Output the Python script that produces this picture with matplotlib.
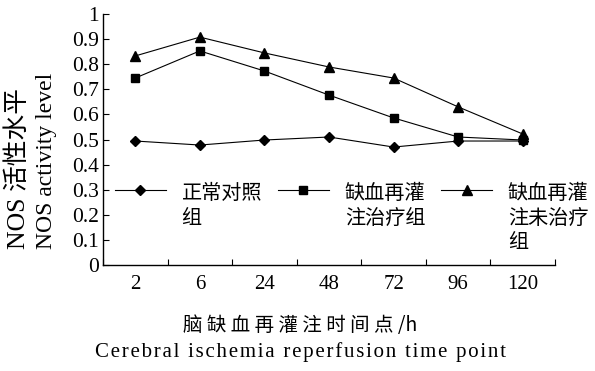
import numpy as np
import matplotlib.pyplot as plt

plt.rcParams['font.family'] = ['Liberation Serif', 'Noto Sans CJK SC', 'DejaVu Sans']
plt.rcParams['axes.unicode_minus'] = False

# ─────────────────────────────────────────
# DATA
# ─────────────────────────────────────────
time_points = ["2", "6", "24", "48", "72", "96", "120"]
normal_ctrl = [0.494, 0.478, 0.498, 0.510, 0.470, 0.494, 0.494]
treated = [0.745, 0.853, 0.773, 0.677, 0.586, 0.510, 0.498]
untreated = [0.833, 0.908, 0.845, 0.789, 0.745, 0.630, 0.522]
y_ticks = [0, 0.1, 0.2, 0.3, 0.4, 0.5, 0.6, 0.7, 0.8, 0.9, 1]
y_tick_labels = ["0", "0.1", "0.2", "0.3", "0.4", "0.5", "0.6", "0.7", "0.8", "0.9", "1"]
series_labels = ["正常对照\n组", "缺血再灌\n注治疗组", "缺血再灌\n注未治疗\n组"]

# ─────────────────────────────────────────
# Plot
# ─────────────────────────────────────────
fig = plt.figure(figsize=(5.95, 3.71), dpi=100)
ax = fig.add_axes([0.1731, 0.2857, 0.7597, 0.6765])

x = np.arange(len(time_points))
ax.plot(x, normal_ctrl, color="black", lw=0.8, marker="D", ms=5.5, label=series_labels[0])
ax.plot(x, treated, color="black", lw=0.8, marker="s", ms=5.5, label=series_labels[1])
ax.plot(x, untreated, color="black", lw=0.8, marker="^", ms=6.5, label=series_labels[2])

ax.set_xlim(-0.5, len(time_points) - 0.5)
ax.set_ylim(0, 1)

# category labels at centres, tick marks between categories
ax.set_xticks(x)
ax.set_xticklabels(time_points, fontsize=15)
ax.set_xticks(np.arange(-0.5, len(time_points)), minor=True)
ax.tick_params(axis="x", which="major", length=0, pad=7)
ax.tick_params(axis="x", which="minor", direction="in", length=4, width=0.8)

ax.set_yticks(y_ticks)
ax.set_yticklabels(y_tick_labels, fontsize=15.5)
ax.tick_params(axis="y", direction="in", length=4, width=0.8, pad=3)

for side in ["top", "right"]:
    ax.spines[side].set_visible(False)
for side in ["left", "bottom"]:
    ax.spines[side].set_linewidth(1.0)

# legend inside the axes, handle aligned with first text line
leg = ax.legend(loc="upper left", bbox_to_anchor=(0.027, 0.325), ncol=3,
                frameon=False, borderpad=0, borderaxespad=0,
                handlelength=2.5, handletextpad=0.8, columnspacing=0.8,
                labelspacing=0.2, prop={"family": ["Noto Sans CJK SC"], "size": 14.5})
leg._legend_handle_box.align = "top"
for col in leg._legend_handle_box.get_children():
    col.align = "left"
    for item in col.get_children():
        item.align = "top"
for t in leg.get_texts():
    t.set_linespacing(1.22)

# axis titles
fig.text(0.030, 0.545, "NOS 活性水平", rotation=90, ha="center", va="center", fontsize=18.5)
fig.text(0.078, 0.566, "NOS activity level", rotation=90, ha="center", va="center", fontsize=17)
fig.text(0.505, 0.123, " ".join("脑缺血再灌注时间点") + " /h", ha="center", va="center", fontsize=14,
         family=["Noto Sans CJK SC"])
en_label = "\u200a".join("Cerebral ischemia reperfusion time point")
fig.text(0.505, 0.050, en_label, ha="center", va="center", fontsize=15)

plt.savefig("out.png", dpi=100)
